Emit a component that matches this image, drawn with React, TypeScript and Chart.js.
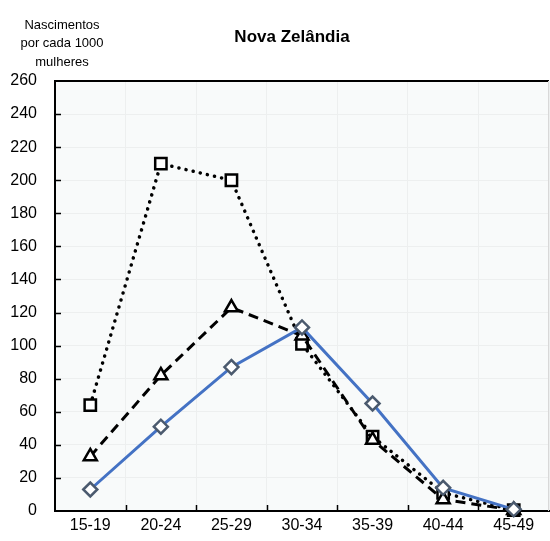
import React, { useEffect, useRef } from 'react';
import { Chart, registerables } from 'chart.js';

Chart.register(...registerables);

const categories = ['15-19', '20-24', '25-29', '30-34', '35-39', '40-44', '45-49'];
const diamondValues = [13, 51, 87, 111, 65, 14, 1];
const triangleValues = [33, 82, 123, 106, 43, 7, 0.5];
const squareValues = [64, 210, 200, 101, 45, 11, 0.5];
const yMin = 0;
const yMax = 260;
const yStep = 20;
const titleText = 'Nova Zelândia';
const yTitleLines = ['Nascimentos', 'por cada 1000', 'mulheres'];

const FONT = '"Liberation Sans", Arial, sans-serif';

const decorPlugin = {
  id: 'decor',
  beforeDraw(chart: any) {
    const { ctx, chartArea } = chart;
    ctx.save();
    ctx.fillStyle = '#f8fafa';
    ctx.fillRect(chartArea.left, chartArea.top, chartArea.right - chartArea.left, chartArea.bottom - chartArea.top);
    ctx.restore();
  },
  afterDraw(chart: any) {
    const { ctx, chartArea, scales } = chart;
    ctx.save();
    ctx.strokeStyle = '#000';
    ctx.lineWidth = 2;
    ctx.beginPath();
    ctx.moveTo(chartArea.left - 1, chartArea.top);
    ctx.lineTo(chartArea.right, chartArea.top);
    ctx.stroke();
    ctx.strokeStyle = '#d8d8d8';
    ctx.lineWidth = 1;
    ctx.beginPath();
    ctx.moveTo(chartArea.right - 0.5, chartArea.top);
    ctx.lineTo(chartArea.right - 0.5, chartArea.bottom);
    ctx.stroke();
    ctx.strokeStyle = '#000';
    ctx.lineWidth = 1.5;
    const y = scales.y;
    for (let v = yMin + yStep; v < yMax; v += yStep) {
      const py = Math.round(y.getPixelForValue(v)) + 0.5;
      ctx.beginPath();
      ctx.moveTo(chartArea.left, py);
      ctx.lineTo(chartArea.left + 6, py);
      ctx.stroke();
    }
    const n = categories.length;
    const w = (chartArea.right - chartArea.left) / n;
    for (let i = 1; i < n; i++) {
      const px = Math.round(chartArea.left + i * w) + 0.5;
      ctx.beginPath();
      ctx.moveTo(px, chartArea.bottom);
      ctx.lineTo(px, chartArea.bottom - 6);
      ctx.stroke();
    }
    ctx.fillStyle = '#000';
    ctx.textAlign = 'center';
    ctx.textBaseline = 'middle';
    ctx.font = `bold 17px ${FONT}`;
    ctx.fillText(titleText, 292, 37);
    ctx.font = `13px ${FONT}`;
    yTitleLines.forEach((line, i) => {
      ctx.fillText(line, 62, 25 + i * 18.5);
    });
    ctx.restore();
  },
};

export default function App() {
  const canvasRef = useRef<HTMLCanvasElement | null>(null);

  useEffect(() => {
    const canvas = canvasRef.current;
    if (!canvas) return;
    const chart = new Chart(canvas, {
      type: 'line',
      data: {
        labels: categories,
        datasets: [
          {
            label: 'diamond',
            data: diamondValues,
            borderColor: '#4472c4',
            borderWidth: 3,
            pointStyle: 'rectRot',
            pointRadius: 7,
            pointBackgroundColor: '#ffffff',
            pointBorderColor: '#4b5a6e',
            pointBorderWidth: 2.5,
            tension: 0,
            clip: false,
          },
          {
            label: 'triangle',
            data: triangleValues,
            borderColor: '#000000',
            borderWidth: 3,
            borderDash: [10, 6],
            pointStyle: 'triangle',
            pointRadius: 7.5,
            pointBackgroundColor: '#ffffff',
            pointBorderColor: '#000000',
            pointBorderWidth: 2.5,
            tension: 0,
            clip: false,
          },
          {
            label: 'square',
            data: squareValues,
            borderColor: '#000000',
            borderWidth: 3.5,
            borderDash: [0.1, 7.2],
            borderCapStyle: 'round',
            pointStyle: 'rect',
            pointRadius: 8,
            pointBackgroundColor: '#ffffff',
            pointBorderColor: '#000000',
            pointBorderWidth: 2.5,
            tension: 0,
            clip: false,
          },
        ],
      },
      options: {
        animation: false,
        responsive: false,
        maintainAspectRatio: false,
        devicePixelRatio: 1,
        layout: { autoPadding: false, padding: { top: 81, right: 1, left: 0, bottom: 0 } },
        plugins: {
          legend: { display: false },
          tooltip: { enabled: false },
          title: { display: false },
        },
        scales: {
          x: {
            type: 'category',
            offset: true,
            grid: { offset: true, drawTicks: false, color: '#edefef', lineWidth: 1 },
            border: { color: '#000', width: 2 },
            ticks: { color: '#000', font: { family: FONT, size: 16 }, padding: 5, maxRotation: 0 },
            afterFit: (s: any) => { s.height = 30; s.paddingRight = 0; s.paddingLeft = 0; },
          },
          y: {
            min: yMin,
            max: yMax,
            grid: { drawTicks: false, color: '#edefef', lineWidth: 1 },
            border: { color: '#000', width: 2 },
            ticks: { stepSize: yStep, color: '#000', font: { family: FONT, size: 16 }, padding: 18 },
            afterFit: (s: any) => { s.width = 55; s.paddingTop = 0; s.paddingBottom = 0; },
          },
        },
      },
      plugins: [decorPlugin],
    } as any);
    return () => chart.destroy();
  }, []);

  return (
    <div style={{ position: 'fixed', left: 0, top: 0, width: 550, height: 541 }}>
      <canvas ref={canvasRef} width={550} height={541} style={{ display: 'block', width: 550, height: 541 }} />
    </div>
  );
}
